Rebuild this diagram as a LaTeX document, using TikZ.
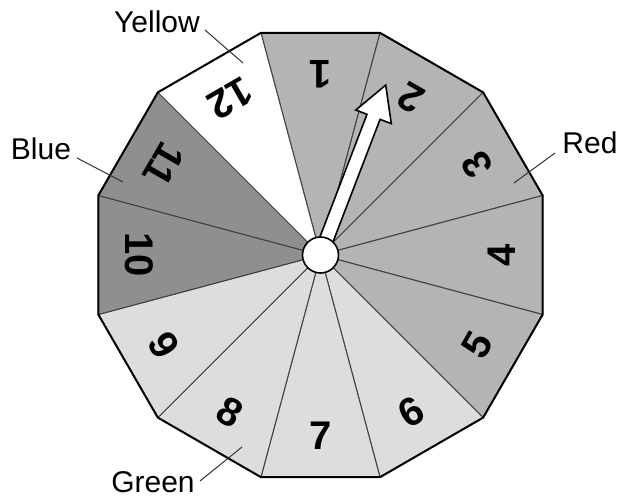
\documentclass[tikz,border=0pt]{standalone}
\usepackage{fontspec}
\setmainfont{Liberation Sans}
\definecolor{wedgemid}{HTML}{B4B4B4}
\definecolor{wedgedark}{HTML}{8F8F8F}
\definecolor{wedgelight}{HTML}{DDDDDD}
\tikzset{
  wedge/.style={draw=black!75, line width=0.5pt},
  rim/.style={draw=black, line width=1pt, line join=miter},
  digit/.style={font=\fontsize{20}{20}\selectfont\bfseries, inner sep=0pt},
  colname/.style={font=\fontsize{15}{15}\selectfont, inner sep=0pt, anchor=base},
  leader/.style={draw=black!80, line width=0.5pt},
  pointer/.style={draw=black, fill=white, line width=0.8pt, line join=miter},
  hubdisc/.style={draw=black, circle, fill=white, minimum size=18pt, inner sep=0pt, line width=0.8pt}
}

\begin{document}
\begin{tikzpicture}[x=0.5pt,y=0.5pt]
  \useasboundingbox (-320.5,-249) rectangle (302.5,255);

  % wedges and numbers
  \foreach \k/\shade in {1/wedgemid,2/wedgemid,3/wedgemid,4/wedgemid,5/wedgemid,6/wedgelight,
                         7/wedgelight,8/wedgelight,9/wedgelight,10/wedgedark,11/wedgedark,12/white}{
    \pgfmathsetmacro{\a}{105-30*(\k-1)}
    \filldraw[wedge, fill=\shade] (0,0) -- (\a:230) -- ({\a-30}:230) -- cycle;
    \node[digit, rotate=\a+75] (num\k) at ({\a-15}:181) {\k};
  }
  \draw[rim] (15:230) \foreach \j in {1,...,11}{ -- ({15+30*\j}:230)} -- cycle;

  % pointer
  \draw[pointer, rotate=69] (0,-7) -- (148,-7) -- (148,-19) -- (182,0) -- (148,19) -- (148,7) -- (0,7) -- cycle;
  \node[hubdisc] (hub) at (0,0) {};

  % colour names
  \node[colname] (yellow) at (-163.5,222) {Yellow};
  \node[colname] (blue) at (-279.5,95) {Blue};
  \node[colname] (red) at (269.5,101) {Red};
  \node[colname] (green) at (-167.5,-237) {Green};

  \coordinate (yellowout) at (-115.5,225);
  \coordinate (yellowin) at (-77.5,192);
  \coordinate (blueout) at (-243.5,97);
  \coordinate (bluein) at (-197.5,73);
  \coordinate (redout) at (234.5,102);
  \coordinate (redin) at (193.5,72);
  \coordinate (greenout) at (-120.5,-226);
  \coordinate (greenin) at (-78.5,-192);

  \draw[leader] (yellowout) -- (yellowin);
  \draw[leader] (blueout) -- (bluein);
  \draw[leader] (redout) -- (redin);
  \draw[leader] (greenout) -- (greenin);
\end{tikzpicture}
\end{document}
